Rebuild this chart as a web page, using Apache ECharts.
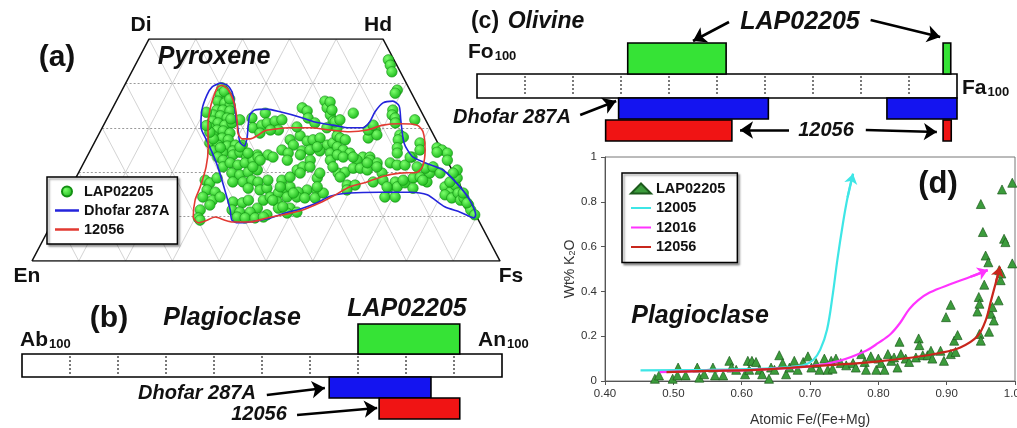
<!DOCTYPE html>
<html><head><meta charset="utf-8">
<script src="https://cdn.jsdelivr.net/npm/echarts@6/dist/echarts.min.js"></script>
<style>html,body{margin:0;padding:0;background:#fff}#c{width:1017px;height:428px}</style>
</head><body><div id="c"></div>
<script>
// ================= DATA =================
// (a) Pyroxene quadrilateral, compositions as [Fs, Wo] (mol%)
const pyxLAP = [
[21.1,39.0],[21.5,37.4],[23.1,37.2],[21.7,36.0],[23.4,35.6],[24.8,35.1],[22.5,34.0],[23.8,34.0],[25.4,33.8],[22.3,32.9],
[23.9,32.7],[25.6,32.2],[22.8,31.5],[24.2,31.1],[25.9,30.6],[27.2,31.1],[23.0,30.0],[24.8,29.5],[26.2,29.3],[27.9,28.8],
[24.6,28.2],[26.8,27.7],[28.3,27.3],[24.7,26.6],[26.7,26.1],[28.8,25.9],[30.4,26.1],[31.9,26.1],[26.3,24.8],[28.7,24.3],
[30.5,24.8],[28.5,31.8],[22.0,38.2],[24.0,36.5],[26.5,32.0],[25.0,27.5],[27.5,25.5],[23.5,29.0],[20.5,33.5],[22.0,30.5],
[30.9,32.2],[32.2,30.0],[33.8,30.6],[33.2,33.3],[34.7,31.1],[34.3,28.8],[36.2,31.5],[37.5,31.8],[37.9,29.5],[36.2,29.5],
[40.5,34.5],[41.9,33.8],[42.9,32.2],[44.6,36.0],[45.8,34.5],[47.3,32.9],[48.6,31.5],[50.2,30.0],[43.2,28.2],[41.5,27.3],
[42.8,26.1],[45.3,27.0],[46.4,27.3],[47.7,27.7],[50.0,26.1],[51.0,26.6],[51.1,28.2],[40.9,25.0],[42.6,24.3],[45.3,24.8],
[46.9,25.0],[49.1,24.8],[51.6,24.3],[36.2,23.9],
[53.5,45.3],[54.5,44.1],[55.6,42.6],[58.8,38.5],[58.7,37.8],[52.0,33.3],[60.1,34.0],[60.5,32.9],[61.5,32.2],[49.1,31.3],
[49.9,31.8],[65.9,31.8],[58.6,29.5],[58.0,27.7],[59.5,28.4],[64.4,28.4],[65.4,27.9],[64.6,27.3],[45.8,35.8],[47.1,34.0],
[52.0,27.7],[53.3,27.3],[52.4,25.7],[54.0,25.0],[55.8,24.3],[59.0,23.4],[60.5,23.4],[65.3,25.5],[65.9,24.3],[69.6,26.6],
[70.4,25.0],[73.8,25.5],[75.1,25.0],[76.6,24.3],[69.5,23.4],
[27.9,18.2],[29.2,17.6],[30.2,18.7],[29.4,16.0],[31.4,15.5],[29.3,14.4],[31.7,13.7],[33.0,14.4],[31.7,12.6],[30.2,11.5],
[30.7,9.7],[31.3,9.2],[28.0,23.4],[29.5,22.7],[30.2,21.2],
[31.0,23.9],[32.2,24.5],[34.2,23.4],[31.3,22.1],[33.2,21.6],[34.5,22.1],[35.9,22.7],[32.8,19.8],[34.7,19.4],[36.2,20.0],
[37.9,20.5],[34.0,17.8],[36.2,17.8],[37.9,18.2],[39.4,17.8],[40.7,16.0],[38.0,16.4],[42.0,16.4],[41.3,18.2],[42.6,13.7],
[43.7,14.4],[45.0,15.3],[44.3,18.2],[45.9,16.4],[46.8,16.7],[45.7,18.9],[46.4,20.5],[47.3,21.2],[48.1,22.7],[36.6,23.4],
[38.5,23.9],[43.2,22.7],[45.4,23.9],[52.4,22.7],[51.6,18.7],[50.8,16.0],[49.1,15.5],[52.9,16.0],[45.8,13.3],[47.3,14.4],
[49.4,14.4],[51.2,14.2],[53.4,14.2],[54.6,15.3],[36.3,13.3],[38.4,13.1],[39.4,13.7],[42.2,11.9],[37.0,11.5],[38.9,11.0],
[41.1,11.0],[38.9,9.9],[40.7,9.7],[42.8,9.7],[45.0,10.4],[46.7,11.9],[49.2,11.9],[51.1,11.0],[49.1,10.8],[44.5,9.9],
[53.3,23.9],[54.8,23.4],[58.1,22.7],[60.9,22.7],[62.7,22.1],[55.5,19.8],[56.9,20.0],[58.2,20.9],[59.7,20.9],[61.4,20.5],
[58.8,17.1],[60.5,17.1],[64.0,17.8],[64.9,19.8],[65.9,18.2],[65.5,22.1],[67.2,21.6],[68.9,21.6],[69.1,23.4],[67.9,16.4],
[68.7,17.8],[69.7,16.7],[70.9,17.6],[72.1,18.7],[73.5,18.9],[75.5,17.8],[75.1,19.8],[73.6,20.9],[75.1,21.2],[77.3,19.8],
[73.2,16.4],[68.2,14.4],[70.4,14.4],[79.9,16.7],[81.6,15.5],[81.9,17.1],[80.8,14.9],[82.6,14.2],[83.4,15.3],[84.7,13.7],
[85.2,14.2],[81.5,18.7],[80.6,20.5],[77.4,22.7],[74.3,24.5],[87.0,12.6],[88.0,11.5],[89.4,10.4],[80.1,19.8],[80.4,17.8],
[84.5,15.3],[86.4,13.1],
[48.0,30.0],[41.5,30.2],[44.9,31.1],[57.1,29.5],[57.6,30.6],[62.1,31.1],[48.1,25.7],[56.9,23.4],[60.6,22.1],[63.1,21.2],
[39.8,23.4],[37.4,22.7],[47.4,19.8],[48.8,21.2],[51.6,19.8],[53.7,21.2],[56.4,18.9],[52.6,16.7],[48.2,15.3],[44.7,16.7],
[44.6,13.7],[47.5,12.2],[59.3,16.0],[67.5,16.7],[70.2,18.2],[71.7,21.2],[74.4,18.2],[31.6,25.7],[34.0,24.3],[36.6,21.2]
];
// Field outlines [Fs, Wo]
const pyxDhofar = [
[20.1,40.1],[21.9,39.6],[23.7,38.1],[25.4,35.6],[27.4,32.4],[29.3,29.5],[31.0,26.8],[32.4,25.9],[32.1,27.7],[30.9,30.6],
[30.1,32.9],[30.6,34.0],[33.1,34.2],[36.2,33.6],[41.1,32.4],[44.8,31.3],[49.0,30.6],[52.9,30.0],[55.7,30.0],[56.5,31.3],
[56.5,33.6],[57.2,35.6],[59.1,36.0],[61.0,34.9],[62.9,31.8],[66.2,26.6],[69.4,23.6],[73.0,22.1],[77.6,20.5],[83.1,16.7],
[86.7,13.7],[89.6,10.4],[89.6,9.7],[86.0,11.0],[82.1,12.2],[77.0,14.9],[73.1,15.5],[66.6,15.5],[60.3,15.3],[56.4,14.6],
[54.4,13.1],[51.5,11.7],[48.7,10.8],[45.5,9.5],[42.2,8.8],[39.7,8.6],[38.1,9.2],[36.6,11.5],[33.2,16.0],[29.1,21.2],
[26.4,24.3],[23.6,27.3],[21.0,30.2],[19.3,34.0],[18.7,37.4],[18.9,39.2],[20.1,40.1]
];
const pyx12056 = [
[20.8,39.6],[22.5,38.7],[24.3,36.9],[26.2,34.5],[28.2,31.3],[29.6,28.8],[31.2,27.5],[32.9,27.5],[34.0,28.2],[35.0,29.3],
[37.1,29.7],[40.1,30.0],[44.4,30.0],[48.9,29.5],[53.4,29.1],[56.9,29.5],[59.7,30.6],[63.2,30.9],[67.0,30.6],[69.0,29.1],
[71.5,25.0],[72.8,21.4],[72.3,20.0],[68.7,19.8],[65.5,19.1],[62.7,17.8],[59.6,16.7],[57.0,14.6],[55.0,13.1],[51.7,11.3],
[48.4,10.4],[45.4,9.7],[42.2,8.8],[38.5,8.8],[36.6,9.2],[34.2,9.9],[32.5,9.0],[31.2,8.6],[29.5,9.9],[28.0,13.7],
[27.6,16.7],[26.6,21.2],[24.8,25.7],[22.5,30.2],[21.0,34.0],[20.3,36.9],[20.1,39.2],[20.8,39.6]
];
const pyxCompSteps = [10,20,30,40,50,60,70,80,90];
const pyxWoSteps = [10,20,30,40];

// (b) Plagioclase An% ranges
const plagTicks = [10,20,30,40,50,60,70,80,90];
const plagLAP = [[70,91.2]];
const plagDhofar = [[64,85.2]];
const plag12056 = [[74.4,91.2]];

// (c) Olivine Fa% ranges
const olTicks = [10,20,30,40,50,60,70,80,90];
const olLAP = [[31.4,51.9],[97.1,98.7]];
const olDhofar = [[29.5,60.7],[85.4,100]];
const ol12056 = [[26.8,53.1],[97.1,98.8]];

// (d) Plagioclase K2O vs Fe/(Fe+Mg)
const k2oLAP = [
[0.473,0.01],[0.479,0.025],[0.499,0.01],[0.507,0.06],[0.506,0.025],[0.518,0.025],[0.535,0.06],[0.538,0.015],[0.545,0.03],[0.558,0.06],
[0.561,0.025],[0.573,0.025],[0.582,0.09],[0.585,0.06],[0.592,0.05],[0.605,0.03],[0.609,0.09],[0.611,0.05],[0.615,0.09],[0.621,0.085],
[0.626,0.05],[0.63,0.03],[0.64,0.01],[0.643,0.06],[0.648,0.05],[0.655,0.115],[0.66,0.08],[0.665,0.03],[0.67,0.06],[0.677,0.09],
[0.682,0.05],[0.69,0.085],[0.697,0.11],[0.702,0.06],[0.709,0.08],[0.714,0.05],[0.721,0.1],[0.726,0.05],[0.731,0.09],[0.733,0.055],
[0.738,0.1],[0.745,0.08],[0.753,0.07],[0.763,0.08],[0.767,0.06],[0.775,0.12],[0.78,0.085],[0.782,0.05],[0.789,0.11],[0.797,0.05],
[0.8,0.1],[0.804,0.08],[0.809,0.05],[0.814,0.12],[0.819,0.09],[0.823,0.105],[0.828,0.06],[0.831,0.175],[0.833,0.12],[0.84,0.1],
[0.845,0.085],[0.855,0.105],[0.859,0.19],[0.86,0.16],[0.865,0.115],[0.872,0.115],[0.877,0.135],[0.879,0.1],[0.891,0.135],[0.896,0.09],
[0.899,0.285],[0.906,0.34],[0.906,0.12],[0.911,0.18],[0.913,0.13],[0.916,0.205],[0.945,0.31],[0.947,0.375],[0.948,0.345],[0.948,0.21],
[0.95,0.18],[0.95,0.79],[0.953,0.665],[0.955,0.43],[0.957,0.56],[0.961,0.53],[0.962,0.22],[0.965,0.3],[0.967,0.33],[0.969,0.27],
[0.976,0.36],[0.977,0.495],[0.979,0.45],[0.98,0.48],[0.981,0.855],[0.984,0.635],[0.986,0.62],[0.996,0.885],[0.996,0.525]
];
const k2o12005 = [[0.452,0.047],[0.55,0.05],[0.65,0.058],[0.69,0.07],[0.705,0.095],[0.715,0.14],[0.725,0.23],[0.733,0.38],[0.74,0.54],[0.748,0.7],[0.755,0.82],[0.763,0.925]];
const k2o12016 = [[0.48,0.04],[0.55,0.045],[0.62,0.05],[0.70,0.065],[0.743,0.09],[0.782,0.135],[0.80,0.17],[0.818,0.21],[0.832,0.26],[0.845,0.32],[0.858,0.36],[0.875,0.395],[0.908,0.435],[0.935,0.465],[0.96,0.495]];
const k2o12056 = [[0.49,0.04],[0.55,0.045],[0.62,0.05],[0.70,0.065],[0.75,0.075],[0.80,0.088],[0.85,0.105],[0.89,0.125],[0.92,0.15],[0.945,0.2],[0.957,0.27],[0.965,0.36],[0.972,0.44],[0.978,0.51]];
const kXTicks = {min:0.4, max:1.0, step:0.1};
const kYTicks = {min:0, max:1, step:0.2};

// ================= LAYOUT / STYLE =================
const FONT = "'Liberation Sans', Arial, Helvetica, sans-serif";
const GREEN = '#36e336', BLUE = '#1414f0', RED = '#f01414';
// vertical row bands (px offsets inside each bar panel)
const ROWS_B = {lap:[44,74], bar:[74,97], dhofar:[97,118], s12056:[118,139]};
const ROWS_C = {lap:[43,74], bar:[74,98], dhofar:[98,119], s12056:[120,141]};
// annotation arrows [tail, head] as [value%, rowOffset]
const ARROWS_B = [[[51.0,115],[63.1,108]],[[57.3,135],[74.0,128]]];
const ARROWS_C = [[[52.5,22],[45.0,41]],[[82.0,20],[96.5,37]],[[21.5,115],[29.0,101]],[[65.0,130],[54.8,130]],[[81.0,130],[95.8,132]]];
// thin-line legend icon (invisible corner dots fix the 24x10 box)
const LINE_ICON = 'path://M0,3.8H24V6.2H0Z M0,0H0.01V0.01H0Z M23.99,10H24V10.01H23.99Z';

const toXY = (fs, wo) => [fs + wo / 2, wo];

function pyxGridSegments() {
  const segs = [];
  pyxCompSteps.forEach(f => { const w = Math.min(50, 100 - f); segs.push([toXY(f,0), toXY(f,w)]); });
  pyxCompSteps.forEach(e => { const w = Math.min(50, 100 - e); segs.push([toXY(100-e,0), toXY(100-e-w,w)]); });
  return segs;
}
function pyxWoSegments() { return pyxWoSteps.map(w => [toXY(0,w), toXY(100-w,w)]); }

function rangeSeries(gi, ranges, row, color) {
  return {type:'custom', xAxisIndex:gi, yAxisIndex:gi, silent:true, z:3,
    data: ranges.map(r => [r[0], r[1]]), encode:{x:[0,1]},
    renderItem:(p, api) => {
      const a = api.coord([api.value(0), row[0]]), b = api.coord([api.value(1), row[1]]);
      return {type:'rect', shape:{x:a[0], y:a[1], width:b[0]-a[0], height:b[1]-a[1]},
        style:{fill:color, stroke:'#000', lineWidth:1.6}};
    }};
}
function mainBarSeries(gi, ticks, row) {
  return {type:'custom', xAxisIndex:gi, yAxisIndex:gi, silent:true, z:3,
    data:[[0,100]], encode:{x:[0,1]},
    renderItem:(p, api) => {
      const a = api.coord([api.value(0), row[0]]), b = api.coord([api.value(1), row[1]]);
      const children = [{type:'rect', shape:{x:a[0], y:a[1], width:b[0]-a[0], height:b[1]-a[1]},
        style:{fill:'#fff', stroke:'#000', lineWidth:1.6}}];
      ticks.forEach(t => {
        const p0 = api.coord([t, row[0]]), p1 = api.coord([t, row[1]]);
        children.push({type:'line', shape:{x1:p0[0], y1:p0[1]+2, x2:p1[0], y2:p1[1]-2},
          style:{stroke:'#222', lineWidth:1.2, lineDash:[2,2]}});
      });
      return {type:'group', children};
    }};
}
function arrowSeries(gi, arrows, color, width, size) {
  return {type:'lines', coordinateSystem:'cartesian2d', xAxisIndex:gi, yAxisIndex:gi, silent:true, z:6,
    symbol:['none','arrow'], symbolSize:size,
    lineStyle:{color, width, opacity:1, curveness:0},
    data: arrows.map(a => ({coords:a}))};
}
function T(x, y, text, size, italic, align) {
  return {type:'text', x, y, z:100, silent:true,
    style:{text, font:(italic ? 'italic ' : '') + 'bold ' + size + 'px ' + FONT, fill:'#111',
      textAlign:align || 'center', textVerticalAlign:'middle'}};
}
function SUB(x, y, main, sub, size, subSize) {
  return {type:'text', x, y, z:100, silent:true,
    style:{text:'{m|' + main + '}{s|' + sub + '}', textAlign:'left', textVerticalAlign:'middle',
      rich:{m:{fontSize:size, fontWeight:'bold', fontFamily:FONT, fill:'#111', color:'#111'},
            s:{fontSize:subSize, fontWeight:'bold', fontFamily:FONT, fill:'#111', color:'#111', verticalAlign:'bottom', padding:[0,0,0,1]}}}};
}

const chart = echarts.init(document.getElementById('c'));
const hidden = {show:false};
const kLineStyle = (c) => ({type:'line', xAxisIndex:3, yAxisIndex:3, symbol:'none', smooth:0.35, z:4, silent:true,
  lineStyle:{color:c, width:2.2}, itemStyle:{color:c}});

const option = {
  animation:false,
  backgroundColor:'#fff',
  grid:[
    {left:32, top:39, width:468, height:222, outerBoundsMode:'none'},
    {left:22, top:280, width:480, height:150, outerBoundsMode:'none'},
    {left:477, top:0, width:480, height:150, outerBoundsMode:'none'},
    {left:605, top:157, width:410, height:224, show:true, borderColor:'#777', borderWidth:1, outerBoundsMode:'none', containLabel:false}
  ],
  xAxis:[
    {gridIndex:0, type:'value', min:0, max:100, ...hidden},
    {gridIndex:1, type:'value', min:0, max:100, ...hidden},
    {gridIndex:2, type:'value', min:0, max:100, ...hidden},
    {gridIndex:3, type:'value', min:kXTicks.min, max:kXTicks.max, interval:kXTicks.step,
      name:'Atomic Fe/(Fe+Mg)', nameLocation:'middle', nameGap:32,
      nameTextStyle:{fontFamily:FONT, fontSize:14, color:'#333'},
      axisLine:{lineStyle:{color:'#555', width:1}}, axisTick:{length:4, lineStyle:{color:'#555'}},
      axisLabel:{formatter:v => v.toFixed(2), fontFamily:FONT, fontSize:11.5, color:'#333', margin:7},
      splitLine:{show:false}}
  ],
  yAxis:[
    {gridIndex:0, type:'value', min:0, max:50, ...hidden},
    {gridIndex:1, type:'value', min:0, max:150, inverse:true, ...hidden},
    {gridIndex:2, type:'value', min:0, max:150, inverse:true, ...hidden},
    {gridIndex:3, type:'value', min:kYTicks.min, max:kYTicks.max, interval:kYTicks.step,
      name:'{n|Wt% K}{s|2}{n|O}', nameLocation:'middle', nameGap:27, nameRotate:90,
      nameTextStyle:{rich:{n:{fontFamily:FONT, fontSize:14, color:'#333'}, s:{fontFamily:FONT, fontSize:9, color:'#333', verticalAlign:'bottom'}}},
      axisLine:{show:true, lineStyle:{color:'#555', width:1}}, axisTick:{show:true, length:4, lineStyle:{color:'#555'}},
      axisLabel:{fontFamily:FONT, fontSize:11.5, color:'#333', margin:8},
      splitLine:{show:false}}
  ],
  legend:[
    {left:47, top:177, orient:'vertical', itemWidth:24, itemHeight:10, itemGap:2, padding:[6,8,6,8],
      backgroundColor:'#fff', borderColor:'#000', borderWidth:1.5, borderRadius:0,
      shadowColor:'rgba(0,0,0,0.35)', shadowBlur:2, shadowOffsetX:2, shadowOffsetY:2,
      textStyle:{fontFamily:FONT, fontWeight:'bold', fontSize:14.5, color:'#111', lineHeight:17},
      data:[{name:'LAP02205', icon:'circle'}, {name:'Dhofar 287A', icon:LINE_ICON}, {name:'12056', icon:LINE_ICON}], selectedMode:false},
    {left:622, top:173, orient:'vertical', itemWidth:20, itemHeight:10, itemGap:2.5, padding:[7,8,7,8],
      backgroundColor:'#fff', borderColor:'#000', borderWidth:1.5, borderRadius:0,
      shadowColor:'rgba(0,0,0,0.35)', shadowBlur:2, shadowOffsetX:2, shadowOffsetY:2,
      textStyle:{fontFamily:FONT, fontWeight:'bold', fontSize:14.5, color:'#111', lineHeight:17},
      data:[{name:'LAP02205 ', icon:'triangle'}, {name:'12005', icon:LINE_ICON}, {name:'12016', icon:LINE_ICON}, {name:'12056 ', icon:LINE_ICON}], selectedMode:false}
  ],
  series:[
    // ---- (a) pyroxene ----
    {type:'lines', coordinateSystem:'cartesian2d', xAxisIndex:0, yAxisIndex:0, silent:true, z:1,
      lineStyle:{color:'#c8c8c8', width:0.8, opacity:1}, data:pyxGridSegments().map(s => ({coords:s}))},
    {type:'lines', coordinateSystem:'cartesian2d', xAxisIndex:0, yAxisIndex:0, silent:true, z:1,
      lineStyle:{color:'#9a9a9a', width:1, type:[2,2], opacity:1}, data:pyxWoSegments().map(s => ({coords:s}))},
    {type:'line', xAxisIndex:0, yAxisIndex:0, symbol:'none', silent:true, z:2,
      lineStyle:{color:'#111', width:1.6}, data:[toXY(0,0), toXY(0,50), toXY(50,50), toXY(100,0), toXY(0,0)]},
    {name:'LAP02205', type:'scatter', xAxisIndex:0, yAxisIndex:0, symbol:'circle', symbolSize:10.5, z:3, silent:true,
      itemStyle:{color:new echarts.graphic.RadialGradient(0.38,0.35,0.7,[{offset:0,color:'#7cff6c'},{offset:1,color:'#17b517'}]),
        borderColor:'#138f13', borderWidth:0.6, opacity:1},
      data:pyxLAP.map(p => toXY(p[0], p[1]))},
    {name:'Dhofar 287A', type:'line', xAxisIndex:0, yAxisIndex:0, symbol:'none', smooth:0.25, z:4, silent:true,
      lineStyle:{color:'#2424dc', width:1.6}, itemStyle:{color:'#2424dc'}, data:pyxDhofar.map(p => toXY(p[0], p[1]))},
    {name:'12056', type:'line', xAxisIndex:0, yAxisIndex:0, symbol:'none', smooth:0.25, z:4, silent:true,
      lineStyle:{color:'#e23a32', width:1.6}, itemStyle:{color:'#e23a32'}, data:pyx12056.map(p => toXY(p[0], p[1]))},
    // ---- (b) plagioclase ----
    mainBarSeries(1, plagTicks, ROWS_B.bar),
    rangeSeries(1, plagLAP, ROWS_B.lap, GREEN),
    rangeSeries(1, plagDhofar, ROWS_B.dhofar, BLUE),
    rangeSeries(1, plag12056, ROWS_B.s12056, RED),
    arrowSeries(1, ARROWS_B, '#000', 2.6, 13),
    // ---- (c) olivine ----
    mainBarSeries(2, olTicks, ROWS_C.bar),
    rangeSeries(2, olLAP, ROWS_C.lap, GREEN),
    rangeSeries(2, olDhofar, ROWS_C.dhofar, BLUE),
    rangeSeries(2, ol12056, ROWS_C.s12056, RED),
    arrowSeries(2, ARROWS_C, '#000', 2.6, 13),
    // ---- (d) K2O ----
    {name:'LAP02205 ', type:'scatter', xAxisIndex:3, yAxisIndex:3, symbol:'triangle', symbolSize:9, z:3, silent:true,
      itemStyle:{color:'#3c9c3c', borderColor:'#1c5a1c', borderWidth:0.7, opacity:1}, data:k2oLAP},
    Object.assign(kLineStyle('#3ee6e6'), {name:'12005', data:k2o12005}),
    Object.assign(kLineStyle('#ff33ff'), {name:'12016', data:k2o12016}),
    Object.assign(kLineStyle('#c8261c'), {name:'12056 ', data:k2o12056}),
    arrowSeries(3, [k2o12005.slice(-2)], '#3ee6e6', 2.2, 10),
    arrowSeries(3, [k2o12016.slice(-2)], '#ff33ff', 2.2, 10),
    arrowSeries(3, [k2o12056.slice(-2)], '#c8261c', 2.2, 10)
  ],
  graphic:[
    // (a)
    T(57,58,'(a)',30,false), T(214,57,'Pyroxene',25,true),
    T(141,25,'Di',21,false), T(378,25,'Hd',21,false), T(27,276,'En',21,false), T(511,276,'Fs',21,false),
    // (b)
    T(109,319,'(b)',30,false), T(232,318,'Plagioclase',25,true), T(407,309,'LAP02205',25,true),
    SUB(20,340,'Ab','100',21,13), SUB(478,340,'An','100',21,13),
    T(197,393,'Dhofar 287A',20,true), T(259,414,'12056',20,true),
    // (c)
    T(485,22,'(c)',23,false), T(546,22,'Olivine',23,true), T(800,22,'LAP02205',25,true),
    SUB(468,52,'Fo','100',21,13), SUB(962,88,'Fa','100',21,13),
    T(512,117,'Dhofar 287A',20,true), T(826,130,'12056',20,true),
    // (d)
    T(938,184,'(d)',31,false), T(700,316,'Plagioclase',25,true)
  ]
};
chart.setOption(option);
</script>
</body></html>
